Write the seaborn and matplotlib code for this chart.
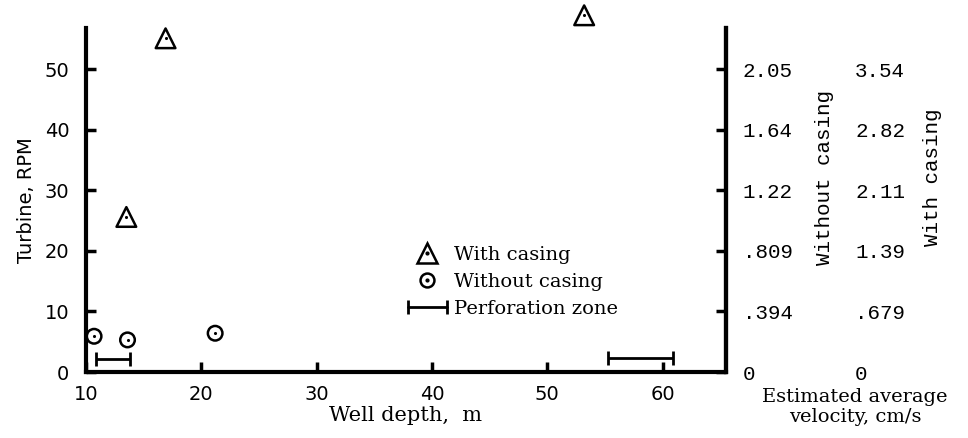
import numpy as np
import pandas as pd
import matplotlib
matplotlib.use("Agg")
import matplotlib.pyplot as plt
import seaborn as sns
from matplotlib.lines import Line2D
from matplotlib.legend_handler import HandlerLine2D, HandlerTuple

# data
with_depth = [16.9, 13.5, 53.2]
with_rpm = [55.1, 25.6, 58.9]
without_depth = [10.7, 13.6, 21.2]
without_rpm = [5.9, 5.3, 6.4]
perf_start = [10.9, 55.3]
perf_end = [13.8, 60.9]
perf_level = [2.1, 2.3]

rpm_ticks = [0, 10, 20, 30, 40, 50]
rpm_labels = ["0", "10", "20", "30", "40", "50"]
depth_ticks = [10, 20, 30, 40, 50, 60]
vel_without = ["0", ".394", ".809", "1.22", "1.64", "2.05"]
vel_with = ["0", ".679", "1.39", "2.11", "2.82", "3.54"]

sns.set_style("ticks")
plt.rcParams['font.family'] = ['DejaVu Sans']
plt.rcParams.update({"text.color": "black", "axes.labelcolor": "black",
                     "xtick.color": "black", "ytick.color": "black"})

fig = plt.figure(figsize=(9.68, 4.38), dpi=100)
ax = fig.add_axes([86 / 968, 1 - 372 / 438, 640 / 968, 344 / 438])

df_with = pd.DataFrame({"depth": with_depth, "rpm": with_rpm})
df_without = pd.DataFrame({"depth": without_depth, "rpm": without_rpm})

sns.scatterplot(data=df_with, x="depth", y="rpm", marker="^", s=200,
                facecolor="none", edgecolor="black", linewidth=1.8, ax=ax, clip_on=False)
sns.scatterplot(data=df_with, x="depth", y="rpm", marker="o", s=5,
                color="black", linewidth=0, ax=ax, clip_on=False)
sns.scatterplot(data=df_without, x="depth", y="rpm", marker="o", s=110,
                facecolor="none", edgecolor="black", linewidth=1.8, ax=ax, clip_on=False)
sns.scatterplot(data=df_without, x="depth", y="rpm", marker="o", s=5,
                color="black", linewidth=0, ax=ax, clip_on=False)

# perforation zones
for x0, x1, yv in zip(perf_start, perf_end, perf_level):
    ax.errorbar([(x0 + x1) / 2], [yv], xerr=[[(x1 - x0) / 2], [(x1 - x0) / 2]],
                fmt="none", ecolor="black", elinewidth=2, capsize=5, capthick=2)

ax.set_xlim(10, 65.5)
ax.set_ylim(0, 56.8)
ax.set_xticks(depth_ticks)
ax.set_yticks(rpm_ticks)
ax.set_yticklabels(rpm_labels)
ax.tick_params(axis="both", direction="in", length=7, width=2.5, labelsize=14)
ax.tick_params(axis="y", pad=12)
ax.tick_params(axis="x", pad=9)
for s in ["left", "bottom", "right"]:
    ax.spines[s].set_linewidth(3)
    ax.spines[s].set_color("black")
ax.spines["top"].set_visible(False)

ax.set_xlabel("Well depth,  m", family="DejaVu Serif", fontsize=15, labelpad=2)
ax.set_ylabel("Turbine, RPM", fontsize=14, labelpad=6)

# right velocity scales
ax2 = ax.twinx()
ax2.set_ylim(ax.get_ylim())
ax2.set_yticks(rpm_ticks)
ax2.set_yticklabels(vel_without, family="Liberation Mono", fontsize=15)
ax2.tick_params(axis="y", direction="in", length=7, width=2.5, pad=12)
for s in ["left", "bottom", "top"]:
    ax2.spines[s].set_visible(False)
ax2.spines["right"].set_linewidth(3)
ax2.spines["right"].set_color("black")

ax3 = ax.twinx()
ax3.set_ylim(ax.get_ylim())
ax3.set_yticks(rpm_ticks)
ax3.set_yticklabels(vel_with, family="Liberation Mono", fontsize=15)
ax3.tick_params(axis="y", length=0, pad=93)
for s in ax3.spines.values():
    s.set_visible(False)

fig.text(825 / 968, 1 - 178 / 438, "Without casing", rotation=90, ha="center",
         va="center", family="Liberation Mono", fontsize=15)
fig.text(933 / 968, 1 - 177 / 438, "With casing", rotation=90, ha="center",
         va="center", family="Liberation Mono", fontsize=15)
fig.text(855 / 968, 1 - 407 / 438, "Estimated average\nvelocity, cm/s", ha="center",
         va="center", family="DejaVu Serif", fontsize=14, linespacing=1.15)

# legend
h_tri = (Line2D([], [], marker="^", ls="none", mfc="none", mec="black", ms=14, mew=1.8),
         Line2D([], [], marker="o", ls="none", color="black", ms=2))
h_circ = (Line2D([], [], marker="o", ls="none", mfc="none", mec="black", ms=10, mew=1.8),
          Line2D([], [], marker="o", ls="none", color="black", ms=2))
h_perf = Line2D([], [], marker="|", ls="-", color="black", lw=2, ms=10, mew=2)
ax.legend([h_tri, h_circ, h_perf], ["With casing", "Without casing", "Perforation zone"],
          handler_map={tuple: HandlerTuple(ndivide=1, pad=0),
                       h_perf: HandlerLine2D(numpoints=2)},
          loc="upper left", bbox_to_anchor=(402 / 968, 1 - 246 / 438),
          bbox_transform=fig.transFigure, frameon=False, borderpad=0,
          borderaxespad=0, handlelength=2.6, handletextpad=0.05, labelspacing=0.45,
          prop={"family": "DejaVu Serif", "size": 14})

fig.savefig("out.png", dpi=100)
